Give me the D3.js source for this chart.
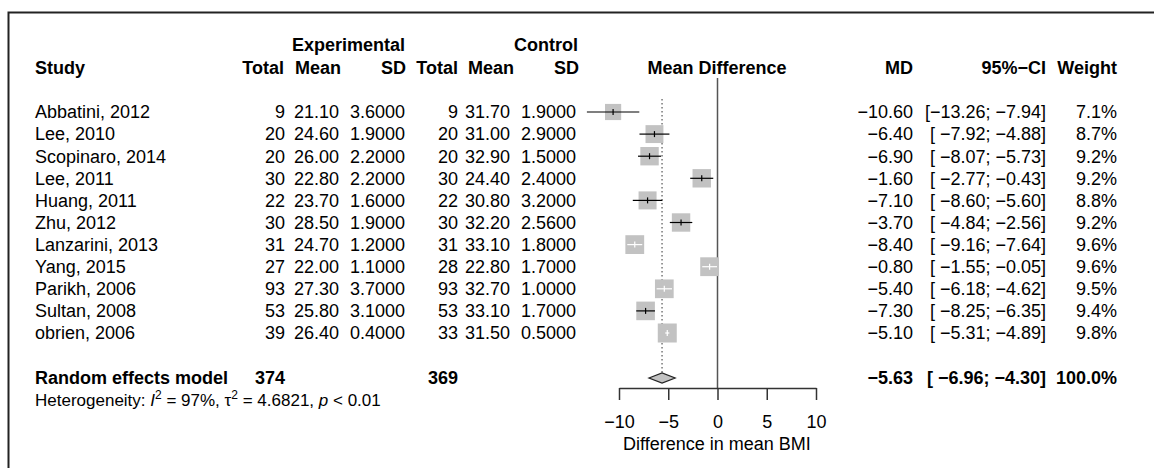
<!DOCTYPE html>
<html>
<head>
<meta charset="utf-8">
<script src="https://cdn.jsdelivr.net/npm/d3@7"></script>
<style>
  body { margin: 0; background: #fff; }
  svg text { font-family: "Liberation Sans", Arial, Helvetica, sans-serif; white-space: pre; }
</style>
</head>
<body>
<div id="chart"></div>
<script>
// study level data
const studies = ['Abbatini, 2012', 'Lee, 2010', 'Scopinaro, 2014', 'Lee, 2011', 'Huang, 2011', 'Zhu, 2012',
  'Lanzarini, 2013', 'Yang, 2015', 'Parikh, 2006', 'Sultan, 2008', 'obrien, 2006'];
const expTotal = [9, 20, 20, 30, 22, 30, 31, 27, 93, 53, 39];
const expMean = [21.10, 24.60, 26.00, 22.80, 23.70, 28.50, 24.70, 22.00, 27.30, 25.80, 26.40];
const expSD = [3.6, 1.9, 2.2, 2.2, 1.6, 1.9, 1.2, 1.1, 3.7, 3.1, 0.4];
const ctrlTotal = [9, 20, 20, 30, 22, 30, 31, 28, 93, 53, 33];
const ctrlMean = [31.70, 31.00, 32.90, 24.40, 30.80, 32.20, 33.10, 22.80, 32.70, 33.10, 31.50];
const ctrlSD = [1.9, 2.9, 1.5, 2.4, 3.2, 2.56, 1.8, 1.7, 1.0, 1.7, 0.5];
const md = [-10.60, -6.40, -6.90, -1.60, -7.10, -3.70, -8.40, -0.80, -5.40, -7.30, -5.10];
const ciLow = [-13.26, -7.92, -8.07, -2.77, -8.60, -4.84, -9.16, -1.55, -6.18, -8.25, -5.31];
const ciHigh = [-7.94, -4.88, -5.73, -0.43, -5.60, -2.56, -7.64, -0.05, -4.62, -6.35, -4.89];
const weight = [7.1, 8.7, 9.2, 9.2, 8.8, 9.2, 9.6, 9.6, 9.5, 9.4, 9.8];

// pooled (random effects)
const pooledLabel = 'Random effects model';
const pooledExpN = 374;
const pooledCtrlN = 369;
const pooledMD = -5.63;
const pooledLow = -6.96;
const pooledHigh = -4.30;
const pooledWeight = 100.0;
const hetI2 = '97%';
const hetTau2 = '4.6821';
const hetP = '0.01';

const xTicks = [-10, -5, 0, 5, 10];
const xTitle = 'Difference in mean BMI';

const width = 1154, height = 468;
const fs = 18;

const svg = d3.select('#chart').append('svg')
  .attr('width', width)
  .attr('height', height);

// frame (left + top edges only visible)
svg.append('path')
  .attr('d', 'M8.5,470 L8.5,12.5 L1160,12.5')
  .attr('fill', 'none')
  .attr('stroke', '#222')
  .attr('stroke-width', 2);

const x = d3.scaleLinear().domain([-10, 10]).range([619, 816]);
const y = d3.scaleLinear().domain([0, studies.length - 1]).range([112, 333]);
const box = d3.scaleSqrt().domain([0, 9.8]).range([0, 19]);

const f2 = d3.format('.2f'), f4 = d3.format('.4f'), f1 = d3.format('.1f');

function txt(xp, yp, s, anchor, bold, size) {
  return svg.append('text')
    .attr('x', xp).attr('y', yp).attr('dy', '0.35em')
    .attr('text-anchor', anchor || 'start')
    .attr('font-size', size || fs)
    .attr('font-weight', bold ? 'bold' : 'normal')
    .attr('fill', '#000')
    .text(s);
}

// headers
txt(405, 45, 'Experimental', 'end', true);
txt(578, 45, 'Control', 'end', true);
txt(35, 68, 'Study', 'start', true);
txt(284, 68, 'Total', 'end', true);
txt(341, 68, 'Mean', 'end', true);
txt(406, 68, 'SD', 'end', true);
txt(458, 68, 'Total', 'end', true);
txt(514, 68, 'Mean', 'end', true);
txt(579, 68, 'SD', 'end', true);
txt(717, 68, 'Mean Difference', 'middle', true);
txt(913, 68, 'MD', 'end', true);
txt(1046, 68, '95%\u2212CI', 'end', true);
txt(1117, 68, 'Weight', 'end', true);

function ciText(lo, hi) {
  return '[' + f2(lo).padStart(6, ' ') + '; ' + f2(hi) + ']';
}

// study rows
studies.forEach((s, i) => {
  const yy = y(i);
  txt(35, yy, s);
  txt(285, yy, expTotal[i], 'end');
  txt(339, yy, f2(expMean[i]), 'end');
  txt(405, yy, f4(expSD[i]), 'end');
  txt(458, yy, ctrlTotal[i], 'end');
  txt(510, yy, f2(ctrlMean[i]), 'end');
  txt(576, yy, f4(ctrlSD[i]), 'end');
  txt(913, yy, f2(md[i]), 'end');
  txt(1046, yy, ciText(ciLow[i], ciHigh[i]), 'end');
  txt(1117, yy, f1(weight[i]) + '%', 'end');
});

// pooled row
const yp = 378;
txt(35, yp, pooledLabel, 'start', true);
txt(285, yp, pooledExpN, 'end', true);
txt(458, yp, pooledCtrlN, 'end', true);
txt(913, yp, f2(pooledMD), 'end', true);
txt(1046, yp, ciText(pooledLow, pooledHigh), 'end', true);
txt(1117, yp, f1(pooledWeight) + '%', 'end', true);

// heterogeneity line
const het = svg.append('text')
  .attr('x', 35).attr('y', 400).attr('dy', '0.35em')
  .attr('font-size', 17).attr('fill', '#000');
het.append('tspan').text('Heterogeneity: ');
het.append('tspan').attr('font-style', 'italic').text('I');
het.append('tspan').attr('font-size', 12).attr('dy', -7).text('2');
het.append('tspan').attr('dy', 7).text(' = ' + hetI2 + ', \u03c4');
het.append('tspan').attr('font-size', 12).attr('dy', -7).text('2');
het.append('tspan').attr('dy', 7).text(' = ' + hetTau2 + ', ');
het.append('tspan').attr('font-style', 'italic').text('p');
het.append('tspan').text(' < ' + hetP);

// plot area
const plot = svg.append('g');

// zero line
plot.append('line')
  .attr('x1', x(0)).attr('x2', x(0))
  .attr('y1', 78).attr('y2', 388)
  .attr('stroke', '#555').attr('stroke-width', 1.5);

// pooled estimate dotted line
plot.append('line')
  .attr('x1', x(pooledMD)).attr('x2', x(pooledMD))
  .attr('y1', 99).attr('y2', yp - 5)
  .attr('stroke', '#777').attr('stroke-width', 1.5)
  .attr('stroke-dasharray', '1.5,2.5');

const rows = plot.selectAll('.row')
  .data(studies.map((s, i) => ({ i, md: md[i], lo: ciLow[i], hi: ciHigh[i], w: weight[i] })))
  .enter().append('g').attr('class', 'row');

rows.append('rect')
  .attr('x', d => x(d.md) - box(d.w) / 2)
  .attr('y', d => y(d.i) - box(d.w) / 2)
  .attr('width', d => box(d.w))
  .attr('height', d => box(d.w))
  .attr('fill', '#c2c2c2');

function lineColor(d) {
  return (x(d.hi) - x(d.lo)) < box(d.w) ? '#fff' : '#000';
}

rows.append('line')
  .attr('x1', d => x(d.lo)).attr('x2', d => x(d.hi))
  .attr('y1', d => y(d.i)).attr('y2', d => y(d.i))
  .attr('stroke', lineColor).attr('stroke-width', 1.2);

rows.append('line')
  .attr('x1', d => x(d.md)).attr('x2', d => x(d.md))
  .attr('y1', d => y(d.i) - 3).attr('y2', d => y(d.i) + 3)
  .attr('stroke', lineColor).attr('stroke-width', 1.2);

// diamond
plot.append('path')
  .attr('d', `M${x(pooledLow)},${yp} L${x(pooledMD)},${yp - 5} L${x(pooledHigh)},${yp} L${x(pooledMD)},${yp + 5} Z`)
  .attr('fill', '#c2c2c2')
  .attr('stroke', '#222')
  .attr('stroke-width', 1.2);

// x axis
const axis = svg.append('g')
  .attr('transform', 'translate(0,388)')
  .call(d3.axisBottom(x).tickValues(xTicks).tickSize(12).tickSizeOuter(0).tickPadding(15).tickFormat(d3.format('d')));
axis.select('.domain').attr('stroke', '#333').attr('stroke-width', 1.5);
axis.selectAll('.tick line').attr('stroke', '#333').attr('stroke-width', 1.5);
axis.selectAll('.tick text')
  .attr('font-size', fs)
  .attr('font-family', '"Liberation Sans", Arial, Helvetica, sans-serif')
  .attr('fill', '#000');

txt(717, 444, xTitle, 'middle');
</script>
</body>
</html>
